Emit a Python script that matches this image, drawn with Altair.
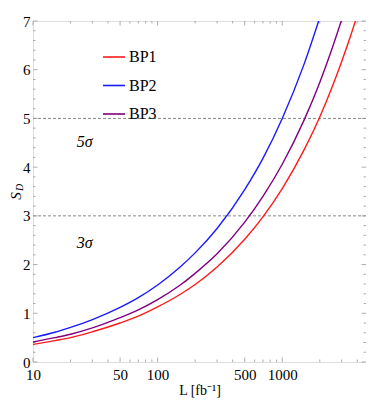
import altair as alt
import pandas as pd

# ---- data ----
L_BP1 = [10, 15, 20, 30, 50, 70, 100, 150, 200, 300, 500, 700, 1000, 1500, 2000, 2500, 3000, 3500, 4000]
S_BP1 = [0.36, 0.44, 0.50, 0.62, 0.80, 0.94, 1.13, 1.38, 1.59, 1.95, 2.52, 2.98, 3.56, 4.36, 5.03, 5.63, 6.17, 6.66, 7.12]
L_BP2 = [10, 15, 20, 30, 50, 70, 100, 150, 200, 300, 500, 700, 1000, 1500, 2000]
S_BP2 = [0.50, 0.61, 0.71, 0.87, 1.12, 1.32, 1.58, 1.94, 2.24, 2.74, 3.54, 4.18, 5.00, 6.12, 7.07]
L_BP3 = [10, 15, 20, 30, 50, 70, 100, 150, 200, 300, 500, 700, 1000, 1500, 2000, 2500, 3000]
S_BP3 = [0.41, 0.50, 0.57, 0.70, 0.91, 1.07, 1.28, 1.57, 1.82, 2.22, 2.87, 3.40, 4.06, 4.97, 5.74, 6.42, 7.03]

series_names = ["BP1", "BP2", "BP3"]
series_colors = ["#ff1a1a", "#1a1aff", "#800080"]

sigma_levels = [5, 3]
sigma_labels = ["5σ", "3σ"]
sigma_label_L = [26, 26]
sigma_label_S = [4.52, 2.45]

x_domain = [10, 4700]
y_domain = [0, 7]
x_major = [10, 50, 100, 500, 1000]
x_minor = [20, 30, 40, 60, 70, 80, 90, 200, 300, 400, 600, 700, 800, 900, 2000, 3000, 4000]
y_major = [0, 1, 2, 3, 4, 5, 6, 7]
y_minor = [round(i * 0.2, 1) for i in range(36) if i % 5 != 0]

W, H = 333, 341
FONT = "Liberation Serif"

rows = []
for name, Ls, Ss in zip(series_names, [L_BP1, L_BP2, L_BP3], [S_BP1, S_BP2, S_BP3]):
    for l, s in zip(Ls, Ss):
        rows.append({"L": l, "S": s, "series": name})
df = pd.DataFrame(rows)

xs = alt.Scale(type="log", domain=x_domain, nice=False)
ys = alt.Scale(domain=y_domain, nice=False)

lines = alt.Chart(df).mark_line(clip=True, strokeWidth=1.4, interpolate="monotone").encode(
    x=alt.X("L:Q", scale=xs, axis=alt.Axis(values=x_major, format="d", ticks=False, domain=False, grid=False,
                                           labelFont=FONT, labelFontSize=15, labelColor="black", labelPadding=5,
                                           title="L [fb⁻¹]", titleFont=FONT, titleFontSize=14,
                                           titleFontWeight="normal", titleColor="black", titlePadding=1,
                                           labelFlush=False)),
    y=alt.Y("S:Q", scale=ys, axis=alt.Axis(values=y_major, format="d", ticks=False, domain=False, grid=False,
                                           labelFont=FONT, labelFontSize=15, labelColor="black", labelPadding=3,
                                           title=None, labelFlush=False)),
    color=alt.Color("series:N", scale=alt.Scale(domain=series_names, range=series_colors),
                    legend=alt.Legend(title=None, orient="none", legendX=69, legendY=24,
                                      symbolType="stroke", symbolSize=484, symbolStrokeWidth=1.6,
                                      labelFont=FONT, labelFontSize=16, labelColor="black",
                                      labelOffset=3, rowPadding=8.5, padding=0)),
)

sig_df = pd.DataFrame({"S": sigma_levels})
dashed = alt.Chart(sig_df).mark_rule(color="#888888", strokeDash=[3, 2], strokeWidth=1).encode(
    y=alt.Y("S:Q", scale=ys)
)

lab_df = pd.DataFrame({"L": sigma_label_L, "S": sigma_label_S, "t": sigma_labels})
sig_text = alt.Chart(lab_df).mark_text(font=FONT, fontSize=16, fontStyle="italic", color="black").encode(
    x=alt.X("L:Q", scale=xs), y=alt.Y("S:Q", scale=ys), text="t:N"
)

TICK_C = "#999999"

def xticks(vals, length):
    d = pd.DataFrame({"L": vals})
    bottom = alt.Chart(d).mark_rule(color=TICK_C, strokeWidth=0.8).encode(
        x=alt.X("L:Q", scale=xs), y=alt.value(H), y2=alt.value(H - length))
    top = alt.Chart(d).mark_rule(color=TICK_C, strokeWidth=0.8).encode(
        x=alt.X("L:Q", scale=xs), y=alt.value(0), y2=alt.value(length))
    return [bottom, top]

def yticks(vals, length):
    d = pd.DataFrame({"S": vals})
    left = alt.Chart(d).mark_rule(color=TICK_C, strokeWidth=0.8).encode(
        y=alt.Y("S:Q", scale=ys), x=alt.value(0), x2=alt.value(length))
    right = alt.Chart(d).mark_rule(color=TICK_C, strokeWidth=0.8).encode(
        y=alt.Y("S:Q", scale=ys), x=alt.value(W), x2=alt.value(W - length))
    return [left, right]

ticks = xticks(x_major, 4.5) + xticks(x_minor, 2.5) + yticks(y_major, 4.5) + yticks(y_minor, 2.5)

ttl_s = alt.Chart(pd.DataFrame({"t": ["S"]})).mark_text(
    font=FONT, fontSize=15, fontStyle="italic", angle=270, baseline="middle", align="center",
    color="black").encode(
    x=alt.value(-17), y=alt.value(175), text="t:N")
ttl_d = alt.Chart(pd.DataFrame({"t": ["D"]})).mark_text(
    font=FONT, fontSize=10, fontStyle="italic", angle=270, baseline="middle", align="center",
    color="black").encode(
    x=alt.value(-13.5), y=alt.value(166.5), text="t:N")

chart = alt.layer(dashed, *ticks, lines, sig_text, ttl_s, ttl_d).properties(
    width=W, height=H, autosize="none",
    padding={"left": 25, "top": 13, "right": 0, "bottom": 36},
).configure_view(stroke="#bbbbbb", strokeWidth=1).configure(background="white")

chart.save("out.html", embed_options={"renderer": "svg", "actions": False})
